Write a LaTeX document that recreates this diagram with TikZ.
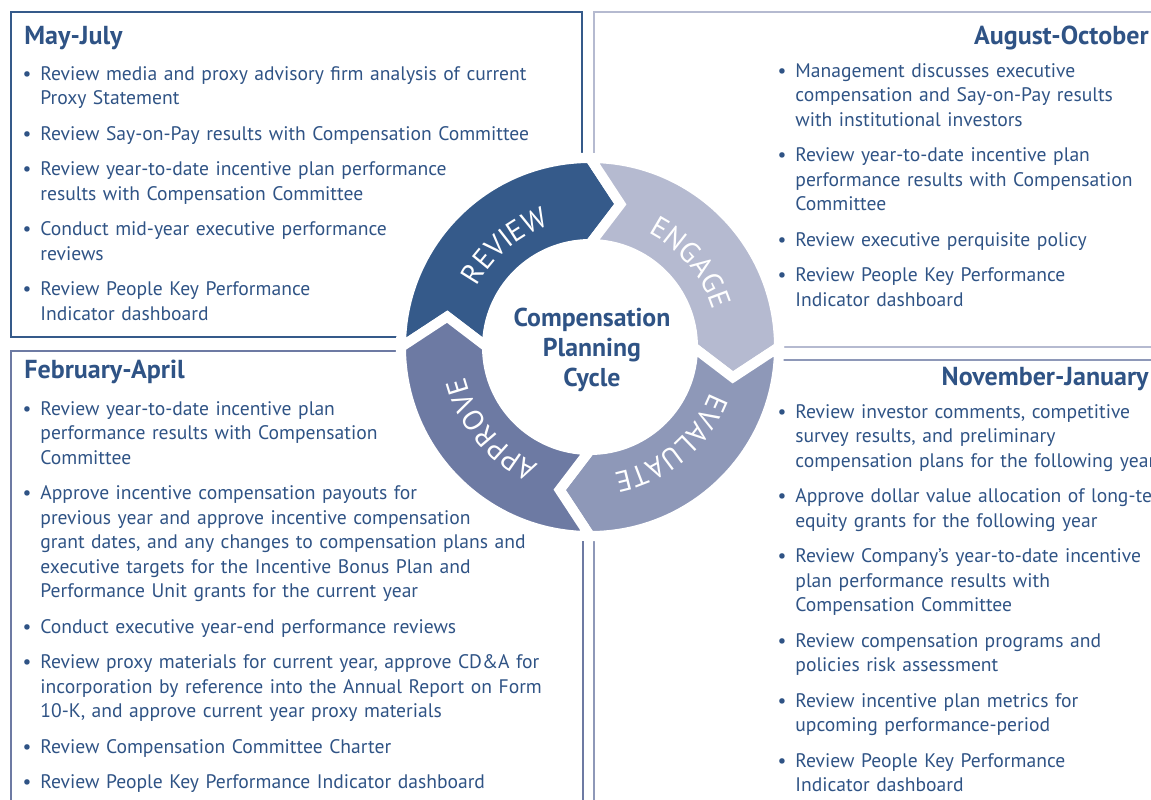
\documentclass[tikz,border=0pt]{standalone}
\usepackage{fontspec}
\setmainfont{PT Sans}
\newfontfamily\ringfont[LetterSpace=3]{PT Sans}
\usetikzlibrary{decorations.text}
\definecolor{revblue}{HTML}{355A8A}
\definecolor{engblue}{HTML}{B5BAD0}
\definecolor{evablue}{HTML}{8E98B8}
\definecolor{appblue}{HTML}{6D7AA3}
\definecolor{inkblue}{HTML}{2F5385}
\newcommand{\bul}{\leavevmode\llap{\textbullet\hspace{4.5pt}}}
\newcommand{\ringlbl}{\color{white}\fontsize{14.5}{16}\ringfont}
\begin{document}
\begin{tikzpicture}[x=0.5pt,y=0.5pt,
  boxline/.style={line width=1.25pt},
  items/.style={anchor=north west,inner sep=0pt,align=left,text width=#1,text=inkblue,font=\fontsize{9.8}{12.25}\selectfont},
  head/.style={inner sep=0pt,text=inkblue,font=\bfseries\fontsize{13}{15}\selectfont},
  seg/.style={draw=white,line width=5pt},
  ringtext/.style={decorate,decoration={text along path,text align=center,text={|\ringlbl|#1}}}]
\useasboundingbox (0,0) rectangle (1151,-799);

%quarter boxes
\draw[boxline,revblue] (11,-12) rectangle (582,-337); %may-july
\draw[boxline,engblue] (594,-12) rectangle (1170,-347); %august-october
\draw[boxline,appblue] (11,-351) rectangle (583,-830); %february-april
\draw[boxline,evablue] (594,-360) rectangle (1170,-830); %november-january

%cycle ring
\coordinate (rc) at (590,-347);
\fill[white] (rc) circle[radius=110]; %hole
\filldraw[seg,fill=revblue] ([shift={(180:189)}]rc) arc[start angle=180,end angle=90,radius=189]
  -- ([shift={(78:146)}]rc) -- ([shift={(90:103)}]rc) arc[start angle=90,end angle=180,radius=103]
  -- ([shift={(168:146)}]rc) -- cycle; %review
\filldraw[seg,fill=engblue] ([shift={(90:189)}]rc) arc[start angle=90,end angle=0,radius=189]
  -- ([shift={(-12:146)}]rc) -- ([shift={(0:103)}]rc) arc[start angle=0,end angle=90,radius=103]
  -- ([shift={(78:146)}]rc) -- cycle; %engage
\filldraw[seg,fill=evablue] ([shift={(0:189)}]rc) arc[start angle=0,end angle=-90,radius=189]
  -- ([shift={(-102:146)}]rc) -- ([shift={(-90:103)}]rc) arc[start angle=-90,end angle=0,radius=103]
  -- ([shift={(-12:146)}]rc) -- cycle; %evaluate
\filldraw[seg,fill=appblue] ([shift={(-90:189)}]rc) arc[start angle=-90,end angle=-180,radius=189]
  -- ([shift={(168:146)}]rc) -- ([shift={(180:103)}]rc) arc[start angle=180,end angle=270,radius=103]
  -- ([shift={(-102:146)}]rc) -- cycle; %approve

%ring labels
\path[ringtext=REVIEW] ([shift={(180:128)}]rc) arc[start angle=180,end angle=80,radius=128];
\path[ringtext=ENGAGE] ([shift={(90:128)}]rc) arc[start angle=90,end angle=-10,radius=128];
\path[ringtext=EVALUATE] ([shift={(0:128)}]rc) arc[start angle=0,end angle=-100,radius=128];
\path[ringtext=APPROVE] ([shift={(-90:128)}]rc) arc[start angle=-90,end angle=-190,radius=128];

\node[text=inkblue,font=\bfseries\fontsize{12.9}{14.8}\selectfont,align=center] (cycle) at (592,-350)
  {Compensation\\Planning\\Cycle}; %centre

%headings
\node[head,anchor=base west] (maytitle) at (24,-44) {May-July};
\node[head,anchor=base east] (augtitle) at (1149,-44) {August-October};
\node[head,anchor=base west] (febtitle) at (24,-378) {February-April};
\node[head,anchor=base east] (novtitle) at (1149,-385) {November-January};

%bullet lists
\node[items=300pt] (mayitems) at (40,-62.9) {\strut\bul Review media and proxy advisory firm analysis of current\\Proxy Statement\\[5.5pt]
  \bul Review Say-on-Pay results with Compensation Committee\\[5.5pt]
  \bul Review year-to-date incentive plan performance\\results with Compensation Committee\\[5.5pt]
  \bul Conduct mid-year executive performance\\reviews\\[5.5pt]
  \bul Review People Key Performance\\Indicator dashboard};
\node[items=230pt] (augitems) at (795,-59.9) {\strut\bul Management discusses executive\\compensation and Say-on-Pay results\\with institutional investors\\[5.5pt]
  \bul Review year-to-date incentive plan\\performance results with Compensation\\Committee\\[5.5pt]
  \bul Review executive perquisite policy\\[5.5pt]
  \bul Review People Key Performance\\Indicator dashboard};
\node[items=300pt] (febitems) at (40,-397.9) {\strut\bul Review year-to-date incentive plan\\performance results with Compensation\\Committee\\[5.5pt]
  \bul Approve incentive compensation payouts for\\previous year and approve incentive compensation\\grant dates, and any changes to compensation plans and\\executive targets for the Incentive Bonus Plan and\\Performance Unit grants for the current year\\[5.5pt]
  \bul Conduct executive year-end performance reviews\\[5.5pt]
  \bul Review proxy materials for current year, approve CD\&A for\\incorporation by reference into the Annual Report on Form\\10-K, and approve current year proxy materials\\[5.5pt]
  \bul Review Compensation Committee Charter\\[5.5pt]
  \bul Review People Key Performance Indicator dashboard};
\node[items=230pt] (novitems) at (795,-400.9) {\strut\bul Review investor comments, competitive\\survey results, and preliminary\\compensation plans for the following year\\[5.5pt]
  \bul Approve dollar value allocation of long-term\\equity grants for the following year\\[5.5pt]
  \bul Review Company’s year-to-date incentive\\plan performance results with\\Compensation Committee\\[5.5pt]
  \bul Review compensation programs and\\policies risk assessment\\[5.5pt]
  \bul Review incentive plan metrics for\\upcoming performance-period\\[5.5pt]
  \bul Review People Key Performance\\Indicator dashboard};
\end{tikzpicture}
\end{document}
